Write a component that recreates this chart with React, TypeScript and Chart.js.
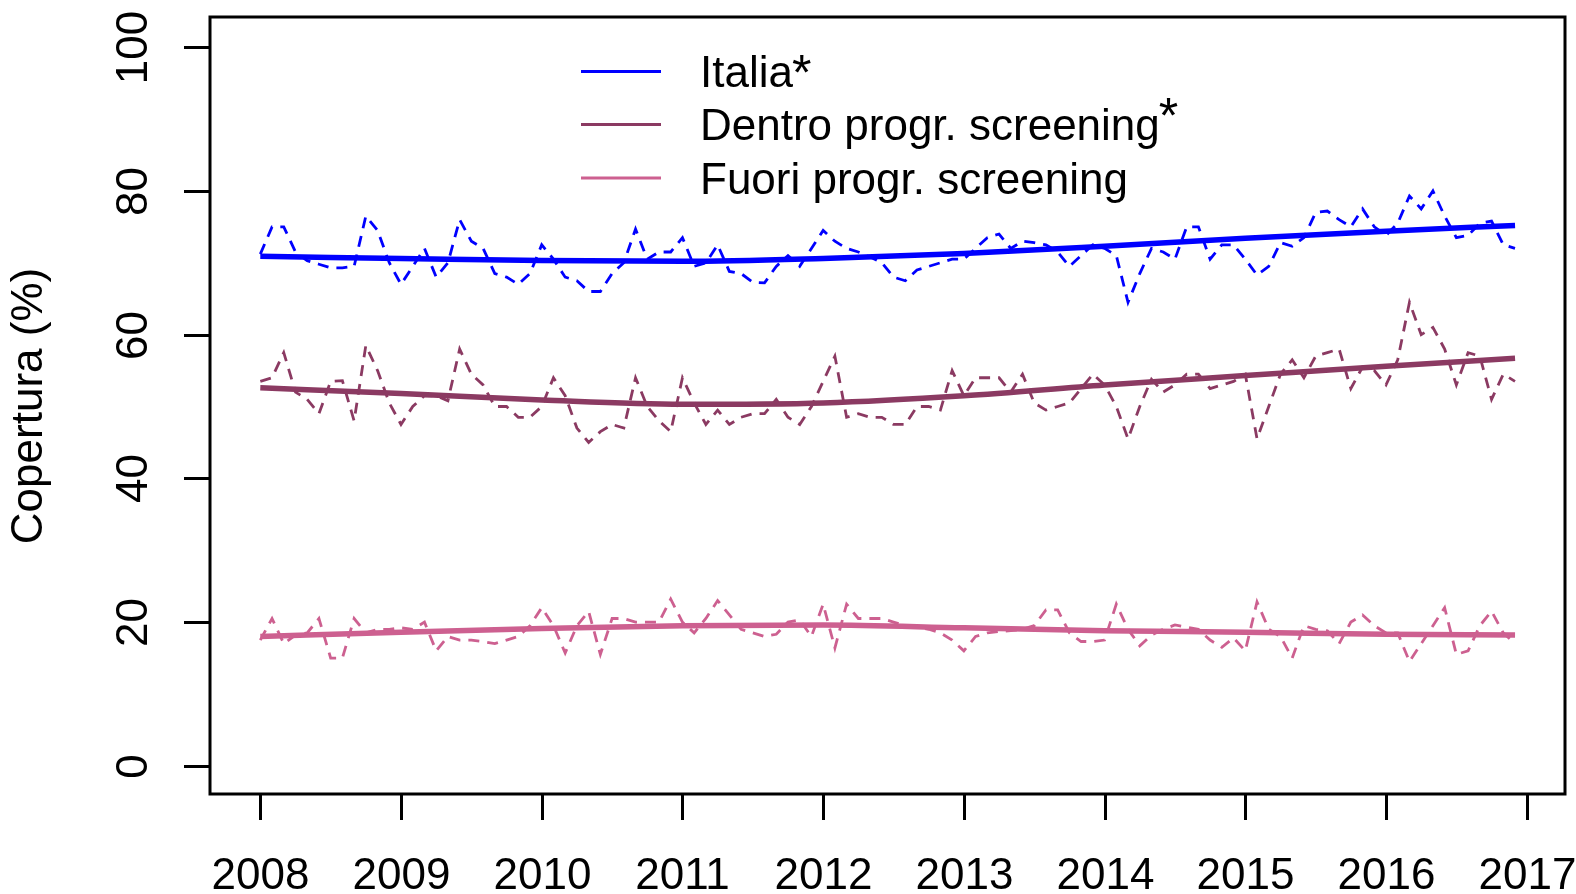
import { useEffect, useRef } from "react";
import { Chart, registerables } from "chart.js";

Chart.register(...registerables);

const FONT = '"Liberation Sans", Arial, Helvetica, sans-serif';

const startYear = 2008;
const xTickYears = [2008, 2009, 2010, 2011, 2012, 2013, 2014, 2015, 2016, 2017];
const yTickValues = [0, 20, 40, 60, 80, 100];
const yTitle = "Copertura (%)";

const seriesNames = ["Italia", "Dentro progr. screening", "Fuori progr. screening"];
const seriesStars = [true, true, false];
const seriesColors = ["#0000FF", "#8B3A62", "#CD6090"];

// monthly values, Jan 2008 .. Dec 2016
const italiaMonthly = [
  71.2, 75, 75, 71.5, 70.3, 69.8, 69.3, 69.3, 69.5, 76.5, 74.5, 70,
  67, 69.5, 72, 68, 70, 76, 73, 72, 68.5, 68, 67, 68.5,
  72.5, 70.5, 68, 67.5, 66, 66, 68.5, 70, 74.7, 70.5, 71.5, 71.5,
  73.5, 69.5, 70, 72.5, 68.8, 68.5, 67.3, 67.2, 69.5, 71, 69.5, 72,
  74.5, 73, 72, 71.5, 70.8, 70, 68, 67.5, 69, 69.5, 70, 70.5,
  70.5, 72, 73.5, 74, 72, 73, 72.8, 72.5, 71.5, 69.5, 71, 72.5,
  72, 71, 64.5, 68.5, 72, 71.5, 70.5, 75, 75, 70.5, 72.5, 72.5,
  70.5, 68.3, 69.5, 72.8, 72.3, 73.5, 77, 77.2, 76, 75, 77.5, 75,
  73.8, 75.5, 79.3, 77.5, 80, 76.5, 73.5, 73.8, 75.5, 75.8, 72.5, 72,
];
const dentroMonthly = [
  53.5, 54, 57.5, 52, 51, 49, 53.5, 53.6, 48, 58.5, 55, 50.5,
  47.5, 50, 51.5, 51.5, 50.8, 58, 54.5, 53, 50, 50, 48.5, 48.5,
  50, 54, 51.5, 47, 45, 46.5, 47.5, 47, 54, 50, 48, 46.5,
  54, 50.5, 47.5, 49.5, 47.5, 48.5, 49, 49, 51, 48.5, 47.5, 50,
  53.5, 57, 48.5, 49, 48.5, 48.5, 47.5, 47.5, 50, 50, 49.5, 55,
  51.5, 54, 54, 54, 52, 54.5, 50.5, 49.5, 50, 50.5, 52.5, 54.5,
  53, 50, 45.5, 50, 53.8, 52, 53, 54.5, 54.5, 52.5, 53, 53.5,
  54.5, 45.5, 50, 54.5, 56.5, 54, 57, 57.5, 58, 52.5, 55.5, 55,
  53, 56.5, 64.5, 60, 61, 58, 53, 57.5, 57, 51, 54.5, 53.5,
];
const fuoriMonthly = [
  17.5, 20.5, 17, 18.2, 18.5, 20.5, 15, 15, 20.5, 18.5, 19, 19,
  19.2, 19, 20, 16, 18, 17.5, 17.5, 17.3, 17, 17.5, 18, 19.5,
  22, 19.5, 15.7, 19.5, 21.5, 15.5, 20.5, 20.5, 20, 20, 20, 23.2,
  20, 18.5, 20.5, 23, 21, 19, 18.5, 18, 18.3, 20, 20.3, 18,
  22.5, 16.4, 22.5, 20.5, 20.5, 20.5, 20, 19.5, 19.3, 19, 18.5, 17.5,
  16, 18, 18.5, 18.7, 18.8, 19, 19.5, 21.7, 21.7, 18.5, 17.3, 17.3,
  17.5, 22.5, 19, 16.7, 18.2, 19, 19.6, 19.3, 19, 17.5, 16.5, 17.8,
  16, 22.8, 19, 18, 15, 19.5, 19, 18.8, 17, 20, 21, 19.5,
  18.5, 18.5, 14.5, 17, 19.5, 22, 15.5, 16, 19.5, 21.5, 18.5, 17,
];

// smooth trend, read at each January and at the last month
const trendYears = [2008, 2009, 2010, 2011, 2012, 2013, 2014, 2015, 2016, 2016.917];
const italiaTrend = [70.9, 70.6, 70.3, 70.2, 70.6, 71.3, 72.3, 73.4, 74.4, 75.2];
const dentroTrend = [52.6, 51.8, 50.9, 50.3, 50.5, 51.5, 53.0, 54.3, 55.6, 56.7];
const fuoriTrend = [18.0, 18.6, 19.1, 19.5, 19.6, 19.2, 18.8, 18.6, 18.3, 18.2];

const axesPlugin = {
  id: "rAxes",
  afterDraw(chart: any) {
    const ctx = chart.ctx as CanvasRenderingContext2D;
    const { left, right, top, bottom } = chart.chartArea;
    const xs = chart.scales.x;
    const ys = chart.scales.y;
    ctx.save();
    ctx.strokeStyle = "#000";
    ctx.fillStyle = "#000";
    ctx.lineWidth = 3;
    ctx.lineCap = "butt";
    ctx.strokeRect(left, top, right - left, bottom - top);

    ctx.font = `44px ${FONT}`;
    // y ticks
    for (const v of yTickValues) {
      const py = Math.round(ys.getPixelForValue(v)) + 0.5;
      ctx.beginPath();
      ctx.moveTo(left - 26, py);
      ctx.lineTo(left, py);
      ctx.stroke();
      ctx.save();
      ctx.translate(135, py);
      ctx.rotate(-Math.PI / 2);
      ctx.textAlign = "center";
      ctx.textBaseline = "middle";
      ctx.fillText(String(v), 0, 0);
      ctx.restore();
    }
    // x ticks
    for (const yr of xTickYears) {
      const px = Math.round(xs.getPixelForValue(yr)) + 0.5;
      ctx.beginPath();
      ctx.moveTo(px, bottom);
      ctx.lineTo(px, bottom + 26);
      ctx.stroke();
      ctx.textAlign = "center";
      ctx.textBaseline = "alphabetic";
      ctx.fillText(String(yr), px, 889);
    }
    // y title
    ctx.save();
    ctx.translate(30, 406);
    ctx.rotate(-Math.PI / 2);
    ctx.textAlign = "center";
    ctx.textBaseline = "middle";
    ctx.fillText(yTitle, 0, 0);
    ctx.restore();

    // legend
    const legendY = [71.5, 124.5, 178];
    const starShift = [3, -7, 0];
    seriesNames.forEach((name, i) => {
      const ly = legendY[i];
      ctx.strokeStyle = seriesColors[i];
      ctx.lineWidth = 3;
      ctx.beginPath();
      ctx.moveTo(581, ly);
      ctx.lineTo(661, ly);
      ctx.stroke();
      ctx.fillStyle = "#000";
      ctx.font = `44px ${FONT}`;
      ctx.textAlign = "left";
      ctx.textBaseline = "alphabetic";
      const base = ly + 15.5;
      ctx.fillText(name, 700, base);
      if (seriesStars[i]) {
        const w = ctx.measureText(name).width;
        ctx.font = `50px ${FONT}`;
        ctx.fillText("*", 700 + w - 1, base + starShift[i]);
      }
    });
    ctx.restore();
  },
};

export default function App() {
  const ref = useRef<HTMLCanvasElement>(null);
  useEffect(() => {
    if (!ref.current) return;
    const monthly = (vals: number[]) =>
      vals.map((v, i) => ({ x: startYear + i / 12, y: v }));
    const trend = (vals: number[]) => vals.map((v, i) => ({ x: trendYears[i], y: v }));
    const trendSets = [italiaTrend, dentroTrend, fuoriTrend].map((vals, i) => ({
      label: seriesNames[i] + " trend",
      data: trend(vals),
      borderColor: seriesColors[i],
      borderWidth: 5.5,
      pointRadius: 0,
      cubicInterpolationMode: "monotone" as const,
      order: 0,
    }));
    const monthlySets = [italiaMonthly, dentroMonthly, fuoriMonthly].map((vals, i) => ({
      label: seriesNames[i],
      data: monthly(vals),
      borderColor: seriesColors[i],
      borderWidth: 2.8,
      borderDash: [11, 8],
      pointRadius: 0,
      tension: 0,
      order: 1,
    }));
    const chart = new Chart(ref.current, {
      type: "line",
      data: { datasets: [...trendSets, ...monthlySets] as any },
      options: {
        responsive: false,
        animation: false,
        layout: { padding: { left: 210, right: 11, top: 17, bottom: 100 } },
        scales: {
          x: { type: "linear", display: false, min: 2007.6425, max: 2017.272 },
          y: { type: "linear", display: false, min: -3.92, max: 104.2 },
        },
        plugins: { legend: { display: false }, tooltip: { enabled: false } },
        elements: { point: { radius: 0 } },
      },
      plugins: [axesPlugin],
    });
    return () => chart.destroy();
  }, []);
  return (
    <div style={{ position: "fixed", left: 0, top: 0, width: 1576, height: 894, background: "#fff" }}>
      <canvas ref={ref} width={1576} height={894} style={{ display: "block" }} />
    </div>
  );
}
